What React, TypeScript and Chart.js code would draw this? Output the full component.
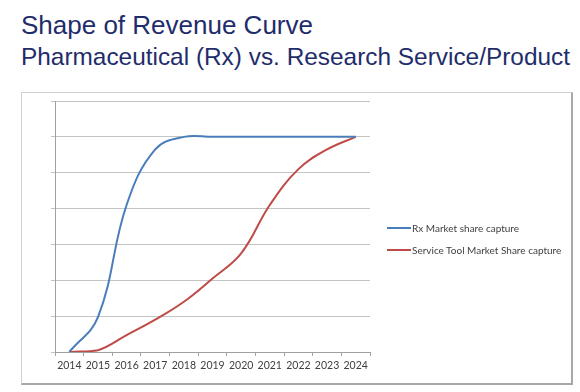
import React, { useEffect, useRef } from "react";
import { Chart, registerables } from "chart.js";

Chart.register(...registerables);

const years = ["2014", "2015", "2016", "2017", "2018", "2019", "2020", "2021", "2022", "2023", "2024"];
const rxShare = [0, 0.97, 4.1, 5.65, 6.0, 6.0, 6.0, 6.0, 6.0, 6.0, 6.0];
const serviceShare = [0, 0.05, 0.47, 0.9, 1.4, 2.05, 2.75, 4.1, 5.1, 5.65, 6.0];
const seriesNames = ["Rx Market share capture", "Service Tool Market Share capture"];
const seriesColors = ["#4a7ebb", "#be4b48"];

export default function App() {
  const ref = useRef<HTMLCanvasElement | null>(null);

  useEffect(() => {
    if (!ref.current) return;
    const chart = new Chart(ref.current, {
      type: "line",
      data: {
        labels: years,
        datasets: [
          {
            label: seriesNames[0],
            data: rxShare,
            borderColor: seriesColors[0],
            borderWidth: 2,
            pointRadius: 0,
            tension: 0.4,
            fill: false,
          },
          {
            label: seriesNames[1],
            data: serviceShare,
            borderColor: seriesColors[1],
            borderWidth: 2,
            pointRadius: 0,
            tension: 0.4,
            fill: false,
          },
        ],
      },
      options: {
        animation: false,
        responsive: false,
        maintainAspectRatio: false,
        layout: { padding: { left: 29, top: 8, right: 201, bottom: 0 } },
        plugins: { legend: { display: false }, tooltip: { enabled: false } },
        scales: {
          x: {
            offset: true,
            grid: { display: true, drawOnChartArea: false, drawTicks: true, tickLength: 4, color: "#a0a0a0", offset: true },
            border: { display: true, color: "#a0a0a0", width: 1 },
            ticks: { color: "#404040", font: { family: "Lato", size: 10.5 }, padding: 3, maxRotation: 0, autoSkip: false },
            afterFit: (s: any) => {
              s.height = 31;
            },
          },
          y: {
            min: 0,
            max: 7,
            grid: { color: "#c4c4c4", drawTicks: true, tickLength: 4 },
            border: { display: true, color: "#a0a0a0", width: 1 },
            ticks: { display: false, stepSize: 1 },
            afterFit: (s: any) => {
              s.width = 4;
            },
          },
        },
      },
    });
    return () => chart.destroy();
  }, []);

  return (
    <div style={{ position: "fixed", left: 0, top: 0, width: 580, height: 392, background: "#fff", overflow: "hidden" }}>
      <div
        style={{
          position: "absolute",
          left: 21,
          top: 10,
          fontFamily: "'Liberation Sans', Arial, sans-serif",
          fontSize: 26,
          color: "#1f2d6b",
          whiteSpace: "nowrap",
          lineHeight: "30px",
        }}
      >
        Shape of Revenue Curve
      </div>
      <div
        style={{
          position: "absolute",
          left: 21,
          top: 43,
          fontFamily: "'Liberation Sans', Arial, sans-serif",
          fontSize: 24.4,
          color: "#1f2d6b",
          whiteSpace: "nowrap",
          lineHeight: "28px",
        }}
      >
        Pharmaceutical (Rx) vs. Research Service/Product
      </div>
      <div
        style={{
          position: "absolute",
          left: 21,
          top: 92,
          width: 549,
          height: 290,
          borderLeft: "1px solid #d0d0d0",
          borderTop: "1px solid #d0d0d0",
          borderRight: "2px solid #a8a8a8",
          borderBottom: "2px solid #a8a8a8",
        }}
      >
        <canvas ref={ref} width={549} height={290} style={{ position: "absolute", left: 0, top: 0 }} />
        {seriesNames.map((n, i) => (
          <div
            key={n}
            style={{
              position: "absolute",
              left: 365,
              top: 128 + i * 22,
              display: "flex",
              alignItems: "center",
              fontFamily: "Lato, sans-serif",
              fontSize: 10,
              color: "#404040",
              whiteSpace: "nowrap",
              height: 14,
            }}
          >
            <span style={{ display: "inline-block", width: 24, height: 2, background: seriesColors[i], marginRight: 1 }} />
            {n}
          </div>
        ))}
      </div>
    </div>
  );
}
